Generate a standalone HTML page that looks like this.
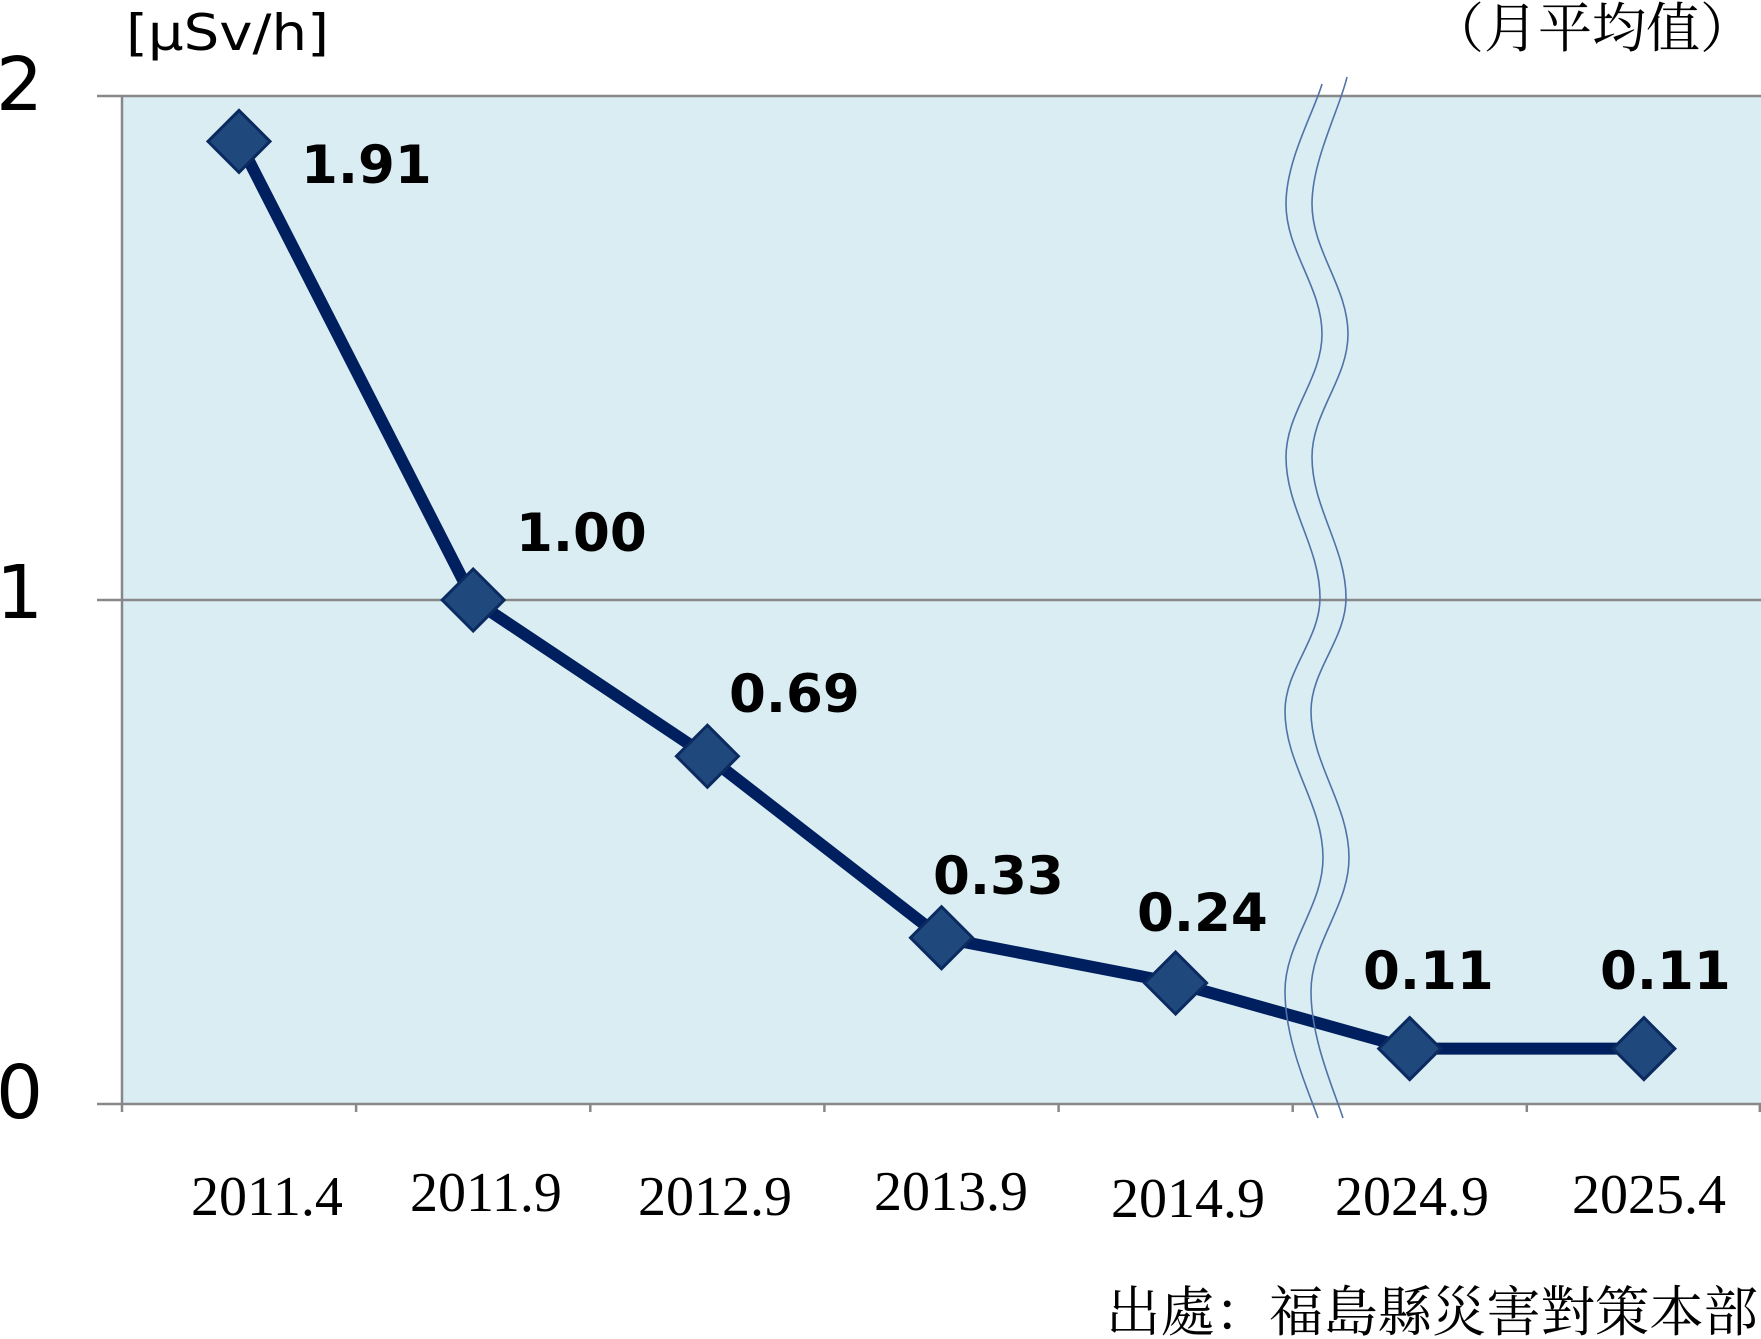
<!DOCTYPE html>
<html>
<head>
<meta charset="utf-8">
<style>
  html, body { margin: 0; padding: 0; background: #ffffff; }
  svg { display: block; }
</style>
</head>
<body>
<svg width="1761" height="1339" viewBox="0 0 1761 1339" xmlns="http://www.w3.org/2000/svg">
  <rect x="0" y="0" width="1761" height="1339" fill="#ffffff"/>

  <!-- plot area -->
  <rect x="122" y="96" width="1639" height="1008" fill="#DAEDF3"/>

  <!-- gridlines -->
  <g stroke="#888888" stroke-width="2.5">
    <line x1="97" y1="96" x2="1761" y2="96"/>
    <line x1="97" y1="600" x2="1761" y2="600"/>
    <line x1="97" y1="1104" x2="1761" y2="1104"/>
    <line x1="122" y1="96" x2="122" y2="1112"/>
  </g>
  <!-- x ticks -->
  <g stroke="#888888" stroke-width="2.5">
    <line x1="356.1" y1="1104" x2="356.1" y2="1112"/>
    <line x1="590.3" y1="1104" x2="590.3" y2="1112"/>
    <line x1="824.4" y1="1104" x2="824.4" y2="1112"/>
    <line x1="1058.6" y1="1104" x2="1058.6" y2="1112"/>
    <line x1="1292.7" y1="1104" x2="1292.7" y2="1112"/>
    <line x1="1526.8" y1="1104" x2="1526.8" y2="1112"/>
    <line x1="1759.8" y1="1104" x2="1759.8" y2="1112"/>
  </g>

  <!-- y labels -->
  <g font-family="'DejaVu Sans', 'Liberation Sans', sans-serif" font-size="74" fill="#000">
    <text x="-4" y="110">2</text>
    <text x="-4" y="618">1</text>
    <text x="-4" y="1118">0</text>
  </g>

  <!-- unit -->
  <text x="126" y="50" font-family="'DejaVu Sans', 'Liberation Sans', sans-serif" font-size="50" textLength="203" lengthAdjust="spacingAndGlyphs" fill="#000">[μSv/h]</text>

  <!-- title right -->
  <text x="1430" y="47" font-family="'Liberation Serif', 'Noto Serif CJK SC', serif" font-size="54" textLength="324" lengthAdjust="spacingAndGlyphs" fill="#000">（月平均值）</text>

  <!-- data line -->
  <polyline points="239,141.4 473.2,600 707.4,756.2 941.5,937.7 1175.6,983 1409.7,1048.6 1643.9,1048.6"
            fill="none" stroke="#001F5E" stroke-width="12" stroke-linejoin="round" stroke-linecap="round"/>

  <!-- markers -->
  <g fill="#1F497D" stroke="#0B2A5F" stroke-width="3">
    <polygon points="239,110.4 270,141.4 239,172.4 208,141.4"/>
    <polygon points="473.2,569 504.2,600 473.2,631 442.2,600"/>
    <polygon points="707.4,725.2 738.4,756.2 707.4,787.2 676.4,756.2"/>
    <polygon points="941.5,906.7 972.5,937.7 941.5,968.7 910.5,937.7"/>
    <polygon points="1175.6,952 1206.6,983 1175.6,1014 1144.6,983"/>
    <polygon points="1409.7,1017.6 1440.7,1048.6 1409.7,1079.6 1378.7,1048.6"/>
    <polygon points="1643.9,1017.6 1674.9,1048.6 1643.9,1079.6 1612.9,1048.6"/>
  </g>

  <!-- break waves -->
  <g fill="none" stroke="#4F73A8" stroke-width="1.6">
    <path d="M 1322 84 C 1314 112, 1286 160, 1286 204
             C 1286 251, 1322 287, 1322 334
             C 1322 379, 1286 412, 1286 457
             C 1286 508, 1320 547, 1320 598
             C 1320 639, 1285 670, 1285 711
             C 1285 764, 1323 804, 1323 858
             C 1323 906, 1285 943, 1285 991
             C 1285 1040, 1308 1090, 1318 1118"/>
    <path d="M 1347 77 C 1340 108, 1312 160, 1312 204
             C 1312 251, 1348 287, 1348 334
             C 1348 379, 1312 412, 1312 457
             C 1312 508, 1346 547, 1346 598
             C 1346 639, 1311 670, 1311 711
             C 1311 764, 1349 804, 1349 858
             C 1349 906, 1311 943, 1311 991
             C 1311 1040, 1334 1090, 1343 1118"/>
  </g>

  <!-- data labels -->
  <g font-family="'DejaVu Sans', 'Liberation Sans', sans-serif" font-size="53" font-weight="bold" fill="#000">
    <text x="301" y="183">1.91</text>
    <text x="516" y="551">1.00</text>
    <text x="729" y="712">0.69</text>
    <text x="933" y="894">0.33</text>
    <text x="1137" y="931">0.24</text>
    <text x="1363" y="989">0.11</text>
    <text x="1600" y="989">0.11</text>
  </g>

  <!-- x labels -->
  <g font-family="'Liberation Serif', serif" font-size="56" fill="#000">
    <text x="191" y="1215">2011.4</text>
    <text x="410" y="1211">2011.9</text>
    <text x="638" y="1215">2012.9</text>
    <text x="874" y="1210">2013.9</text>
    <text x="1111" y="1217">2014.9</text>
    <text x="1335" y="1215">2024.9</text>
    <text x="1572" y="1213">2025.4</text>
  </g>

  <!-- source -->
  <text x="1106" y="1331" font-family="'Liberation Serif', 'Noto Serif CJK SC', serif" font-size="54.5" textLength="652" lengthAdjust="spacingAndGlyphs" fill="#000">出處：福島縣災害對策本部</text>
</svg>
</body>
</html>
